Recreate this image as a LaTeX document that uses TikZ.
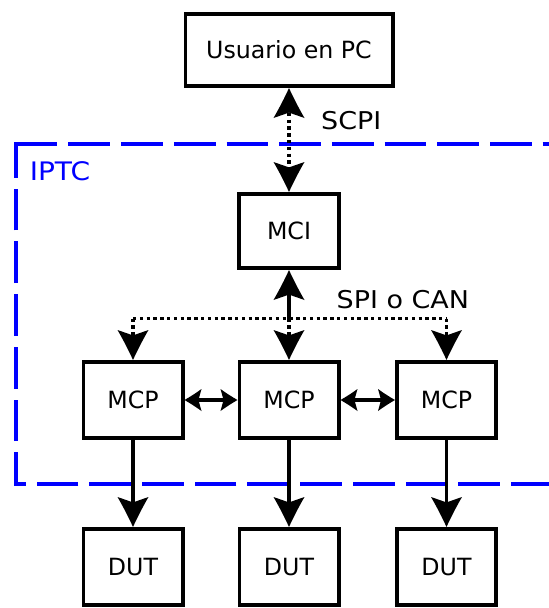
\documentclass[tikz,border=0pt]{standalone}
\usepackage{fontspec}
\setmainfont{DejaVu Sans}
\newfontfamily\labfont{DejaVu Sans}[FakeStretch=1.1]
\usetikzlibrary{arrows.meta}
\pgfdeclarearrow{
  name = Dart,
  setup code = {
    \pgfarrowssettipend{0pt}
    \pgfarrowssetbackend{-\pgfarrowlength}
    \pgfarrowssetlineend{-0.6\pgfarrowlength}
    \pgfarrowsupperhullpoint{0pt}{0pt}
    \pgfarrowsupperhullpoint{-\pgfarrowlength}{0.5\pgfarrowwidth}
    \pgfarrowssavethe\pgfarrowlength
    \pgfarrowssavethe\pgfarrowwidth
  },
  drawing code = {
    \pgfpathmoveto{\pgfqpoint{0pt}{0pt}}
    \pgfpathcurveto{\pgfqpoint{-0.3\pgfarrowlength}{0.13\pgfarrowwidth}}
                   {\pgfqpoint{-0.7\pgfarrowlength}{0.33\pgfarrowwidth}}
                   {\pgfqpoint{-\pgfarrowlength}{0.5\pgfarrowwidth}}
    \pgfpathlineto{\pgfqpoint{-0.82\pgfarrowlength}{0pt}}
    \pgfpathlineto{\pgfqpoint{-\pgfarrowlength}{-0.5\pgfarrowwidth}}
    \pgfpathcurveto{\pgfqpoint{-0.7\pgfarrowlength}{-0.33\pgfarrowwidth}}
                   {\pgfqpoint{-0.3\pgfarrowlength}{-0.13\pgfarrowwidth}}
                   {\pgfqpoint{0pt}{0pt}}
    \pgfpathclose
    \pgfusepathqfill
  },
  parameters = {\the\pgfarrowlength,\the\pgfarrowwidth},
  defaults = {length = 29pt, width = 30pt}
}
\tikzset{
  bighead/.tip={Dart[length=30pt,width=31pt]},
  smallhead/.tip={Dart[length=17pt,width=22pt]}
}
\begin{document}
\begin{tikzpicture}[x=1pt,y=-1pt,
  box/.style={draw, line width=3.8pt, inner sep=0pt, font=\fontsize{23.7}{28}\selectfont},
  mcpbox/.style={box, minimum width=99.2pt, minimum height=76.2pt},
  lab/.style={inner sep=0pt, anchor=base west, font=\labfont\fontsize{24.5}{28}\selectfont},
  conn/.style={line width=3.8pt},
  dotline/.style={line width=3.6pt, line cap=butt, dash pattern=on 3.4pt off 3.4pt},
  dashbox/.style={draw=blue, line width=4.3pt, dash pattern=on 41.7pt off 11pt}
]
\clip (0,0) rectangle (549,608);
% IPTC dashed frame
\draw[dashbox] (15.7,144) -- (560,144);
\draw[dashbox, dash phase=45.3pt] (560,484) -- (15.7,484) -- (15.7,141.85);
\node[lab, text=blue, font=\labfont\fontsize{25.5}{28}\selectfont] (iptc) at (29.6,180) {IPTC};

% boxes
\node[box, minimum width=207.2pt, minimum height=72.2pt] (U) at (289,50) {Usuario en PC};
\node[box, minimum width=100.2pt, minimum height=74.2pt] (MCI) at (289,231) {MCI};
\node[mcpbox] (MCP1) at (133,400) {MCP};
\node[mcpbox] (MCP2) at (289,400) {MCP};
\node[mcpbox] (MCP3) at (446.5,400) {MCP};
\node[mcpbox] (DUT1) at (133,567) {DUT};
\node[mcpbox] (DUT2) at (289,567) {DUT};
\node[mcpbox] (DUT3) at (446.5,567) {DUT};

% labels
\node[lab] (scpi) at (321,129.3) {SCPI};
\node[lab] (spi) at (336.5,308.7) {SPI o CAN};

% SCPI link
\draw[dotline, {bighead}-{bighead}] (U.south) -- (MCI.north);

% SPI / CAN bus
\coordinate (J) at (289,318.5);
\draw[conn, -{bighead}] (J) -- (MCI.south);
\draw[dotline] (MCP1.north |- J) -- (MCP3.north |- J);
\draw[dotline, -{bighead}] (MCP1.north |- J) -- (MCP1.north);
\draw[dotline, -{bighead}] (J) -- (MCP2.north);
\draw[dotline, -{bighead}] (MCP3.north |- J) -- (MCP3.north);

% MCP links
\draw[conn, {smallhead}-{smallhead}] (MCP1.east) -- (MCP2.west);
\draw[conn, {smallhead}-{smallhead}] (MCP2.east) -- (MCP3.west);

% to DUTs
\draw[conn, -{bighead}] (MCP1.south) -- (DUT1.north);
\draw[conn, -{bighead}] (MCP2.south) -- (DUT2.north);
\draw[conn, -{bighead}] (MCP3.south) -- (DUT3.north);
\end{tikzpicture}
\end{document}
